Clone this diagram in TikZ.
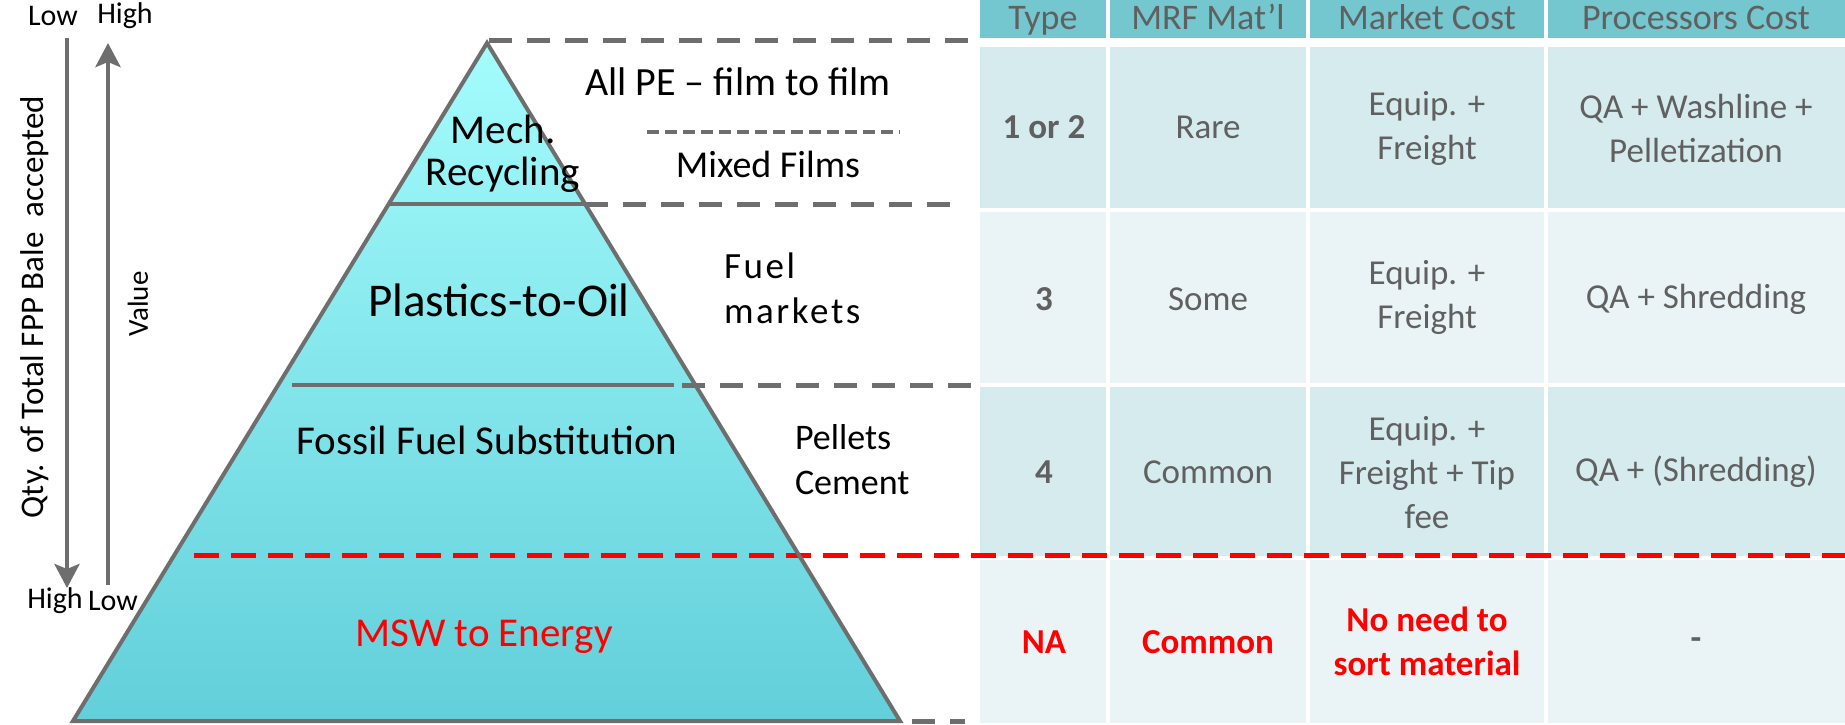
\documentclass[tikz,border=0pt]{standalone}
\usepackage{fontspec}
\setmainfont{Carlito}
\usetikzlibrary{arrows.meta}
\definecolor{lineg}{HTML}{6E6E6E}
\definecolor{hdr}{HTML}{74C7CF}
\definecolor{rowa}{HTML}{D6EBEE}
\definecolor{rowb}{HTML}{EAF4F6}
\definecolor{txtg}{HTML}{606060}
\definecolor{pyrtop}{HTML}{A4FCFC}
\definecolor{pyrbot}{HTML}{62CFDA}
\definecolor{redl}{HTML}{FF0000}
\begin{document}
\begin{tikzpicture}[x=1bp,y=-1bp,
 every node/.style={inner sep=0pt, outer sep=0pt},
 pyrlabel/.style={font=\fontsize{41bp}{42bp}\selectfont, align=center},
 sidetext/.style={font=\fontsize{36bp}{45bp}\selectfont, align=left, anchor=west},
 cell/.style={font=\fontsize{35bp}{44bp}\selectfont, text=txtg, align=center},
 cellb/.style={font=\fontsize{35bp}{44bp}\selectfont\bfseries, text=txtg, align=center},
 redcell/.style={font=\fontsize{35bp}{44bp}\selectfont\bfseries, text=redl, align=center},
 hdrtext/.style={font=\fontsize{36bp}{40bp}\selectfont, text=txtg, anchor=base},
 solidsep/.style={draw=lineg, line width=4.5bp},
 gdash/.style={draw=lineg, line width=5bp, dash pattern=on 23bp off 15bp},
 gdashsmall/.style={draw=lineg, line width=4.5bp, dash pattern=on 12bp off 6bp},
 rdash/.style={draw=redl, line width=5bp, dash pattern=on 25bp off 12bp},
 axisarrow/.style={draw=lineg, line width=4.5bp, -{Stealth[length=24bp,width=25bp,inset=5bp]}},
 smalltext/.style={font=\fontsize{30bp}{32bp}\selectfont}
]
\useasboundingbox[fill=white] (0,0) rectangle (1845,725);

% ---------- table ----------
\fill[hdr] (980,0) rectangle (1106,38);
\fill[hdr] (1110,0) rectangle (1306,38);
\fill[hdr] (1310,0) rectangle (1544,38);
\fill[hdr] (1548,0) rectangle (1845,38);
\foreach \ya/\yb/\col in {47/208/rowa, 212/383/rowb, 387/556/rowa, 560/723/rowb}{
  \fill[\col] (980,\ya) rectangle (1106,\yb);
  \fill[\col] (1110,\ya) rectangle (1306,\yb);
  \fill[\col] (1310,\ya) rectangle (1544,\yb);
  \fill[\col] (1548,\ya) rectangle (1845,\yb);
}
\node[hdrtext] (htype) at (1043,30) {Type};
\node[hdrtext] (hmrf) at (1208,30) {MRF Mat’l};
\node[hdrtext] (hmkt) at (1427,30) {Market Cost};
\node[hdrtext] (hproc) at (1696,30) {Processors Cost};

\node[cellb] (t1) at (1044,127) {1 or 2};
\node[cell] (m1) at (1208,127) {Rare};
\node[cell] (k1) at (1427,128) {Equip. +\\Freight};
\node[cell] (p1) at (1696,128) {QA + Washline +\\Pelletization};

\node[cellb] (t2) at (1044,299) {3};
\node[cell] (m2) at (1208,299) {Some};
\node[cell] (k2) at (1427,297) {Equip. +\\Freight};
\node[cell] (p2) at (1696,299) {QA + Shredding};

\node[cellb] (t3) at (1044,472) {4};
\node[cell] (m3) at (1208,472) {Common};
\node[cell] (k3) at (1427,473) {Equip. +\\Freight + Tip\\fee};
\node[cell] (p3) at (1696,472) {QA + (Shredding)};

\node[redcell] (t4) at (1044,642) {NA};
\node[redcell] (m4) at (1208,642) {Common};
\node[redcell] (k4) at (1427,641) {No need to\\sort material};
\node[cellb] (p4) at (1696,644) {-};

% ---------- pyramid ----------
\coordinate (apex) at (487,43);
\coordinate (bl) at (73,721);
\coordinate (br) at (900,721);
\shade[top color=pyrtop, bottom color=pyrbot] (apex) -- (bl) -- (br) -- cycle;

% divider lines
\coordinate (d1l) at (389,204);
\coordinate (d1r) at (585,204);
\coordinate (d1e) at (965,204);
\coordinate (d2l) at (292,385);
\coordinate (d2r) at (674,385);
\coordinate (d2s) at (682,385);
\coordinate (d2e) at (975,385);
\coordinate (topend) at (982,41);
\coordinate (redl0) at (194,555);
\coordinate (redl1) at (1845,555);
\coordinate (bot0) at (912,721);
\coordinate (bot1) at (965,721);
\coordinate (mid0) at (647,132);
\coordinate (mid1) at (900,132);

\draw[solidsep] (d1l) -- (d1r);
\draw[solidsep] (d2l) -- (d2r);
\draw[gdash] (apex) ++(2,-2) -- (topend);
\draw[gdash] (d1r) -- (d1e);
\draw[gdash] (d2s) -- (d2e);
\draw[gdash] (bot0) -- (bot1);
\draw[gdashsmall] (mid0) -- (mid1);
\draw[rdash] (redl0) -- (redl1);

\draw[draw=lineg, line width=4bp, line join=miter] (apex) -- (bl) -- (br) -- cycle;

\node[pyrlabel] (mech) at (503,154) {Mech.\\Recycling};
\node[pyrlabel, font=\fontsize{47bp}{48bp}\selectfont] (pto) at (499,300) {Plastics-to-Oil};
\node[pyrlabel] (ffs) at (487,440) {Fossil Fuel Substitution};
\node[pyrlabel, text=redl] (msw) at (484,637) {MSW to Energy};

\node[font=\fontsize{40bp}{42bp}\selectfont] (allpe) at (738,82) {All PE – film to film};
\node[font=\fontsize{38bp}{40bp}\selectfont] (mixed) at (768,164) {Mixed Films};
\node[sidetext, font=\fontsize{37bp}{45bp}\selectfont\addfontfeatures{LetterSpace=7}] (fuel) at (724,288) {Fuel\\markets};
\node[sidetext] (pellets) at (795,460) {Pellets\\Cement};

% ---------- left axes ----------
\node[smalltext] (lowtop) at (53,16) {Low};
\node[smalltext] (hightop) at (125,16) {High};
\node[smalltext] (highbot) at (55,601) {High};
\node[smalltext] (lowbot) at (113,601) {Low};
\coordinate (qa) at (67,38);
\coordinate (qb) at (67,588);
\coordinate (va) at (108,585);
\coordinate (vb) at (108,43);
\draw[axisarrow] (qa) -- (qb);
\draw[axisarrow] (va) -- (vb);
\node[font=\fontsize{33bp}{35bp}\selectfont, rotate=90] (qty) at (35,307) {Qty. of Total FPP Bale\ \ accepted};
\node[font=\fontsize{29bp}{31bp}\selectfont, rotate=90] (value) at (138,304) {Value};
\end{tikzpicture}
\end{document}
